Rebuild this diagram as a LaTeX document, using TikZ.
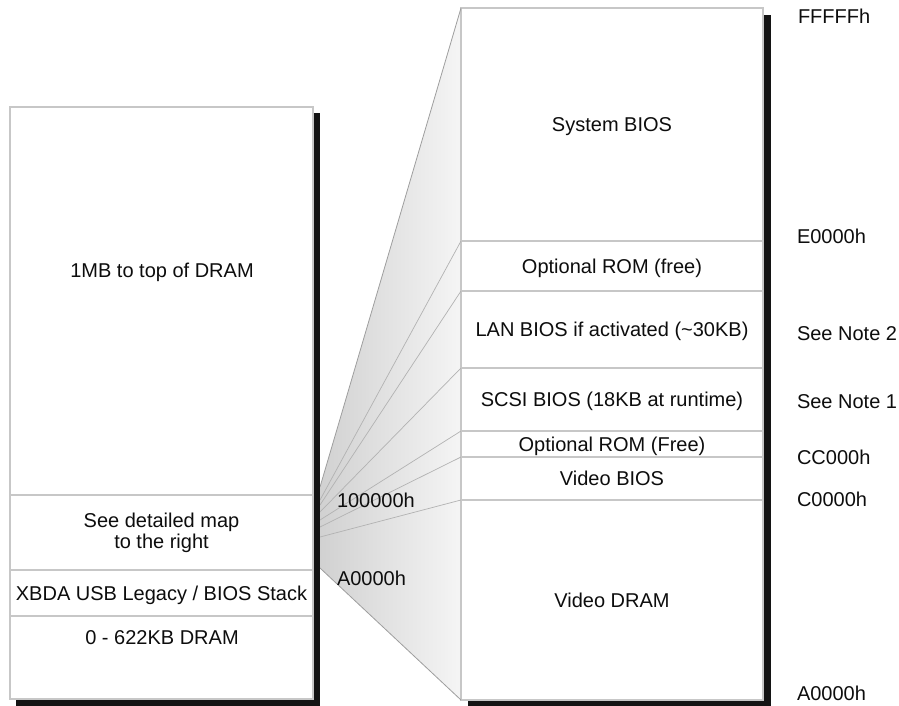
\documentclass[tikz,border=0pt]{standalone}
\usepackage{fontspec}
\setmainfont{Liberation Sans}
\begin{document}
\begin{tikzpicture}[x=1pt,y=-1pt,
  every node/.style={font=\fontsize{20}{21}\selectfont, text=black!95, inner sep=0pt, outer sep=0pt},
  capt/.style={text height=14.3pt, text depth=0pt},
  seg/.style={draw=black!22, line width=1.3pt, fill=white, capt, anchor=north west},
  fanline/.style={draw=black!30, line width=0.7pt},
  fanedge/.style={draw=black!38, line width=0.8pt},
  shadowbox/.style={fill=black!92, draw=none},
  addr/.style={capt, anchor=west}]
\useasboundingbox (0,0) rectangle (899,706);

% fan
\coordinate (f0) at (320,487);
\coordinate (f1) at (320,500);
\coordinate (f2) at (320,505);
\coordinate (f3) at (320,512);
\coordinate (f4) at (320,520);
\coordinate (f5) at (320,527);
\coordinate (f6) at (320,537);
\coordinate (f7) at (320,568);
\coordinate (r0) at (461,8);
\coordinate (r7) at (461,700);
\shade[left color=black!18, right color=black!4] (f0) -- (r0) -- (r7) -- (f7) -- cycle;

% right box
\fill[shadowbox] (468,15) rectangle (771,706);
\node[seg, minimum width=302pt, minimum height=233pt] (sys) at (461,8) {System BIOS};
\node[seg, minimum width=302pt, minimum height=50pt] (opt1) at (461,241) {Optional ROM (free)};
\node[seg, minimum width=302pt, minimum height=77pt] (lan) at (461,291) {LAN BIOS if activated (\textasciitilde 30KB)};
\node[seg, minimum width=302pt, minimum height=63pt] (scsi) at (461,368) {SCSI BIOS (18KB at runtime)};
\node[seg, minimum width=302pt, minimum height=26pt] (opt2) at (461,431) {Optional ROM (Free)};
\node[seg, minimum width=302pt, minimum height=43pt] (vbios) at (461,457) {Video BIOS};
\node[seg, minimum width=302pt, minimum height=200pt] (vdram) at (461,500) {Video DRAM};

% fan lines
\draw[fanedge] (f0) -- (sys.north west);
\draw[fanline] (f1) -- (opt1.north west);
\draw[fanline] (f2) -- (lan.north west);
\draw[fanline] (f3) -- (scsi.north west);
\draw[fanline] (f4) -- (opt2.north west);
\draw[fanline] (f5) -- (vbios.north west);
\draw[fanline] (f6) -- (vdram.north west);
\draw[fanedge] (f7) -- (vdram.south west);

% left box
\fill[shadowbox] (16,113) rectangle (320,706);
\node[seg, minimum width=303pt, minimum height=388pt] (top) at (10,107) {};
\node[seg, minimum width=303pt, minimum height=75pt, align=center, text height=, text depth=] (see) at (10,495) {See detailed map\\to the right};
\node[seg, minimum width=303pt, minimum height=46pt] (xbda) at (10,570) {XBDA USB Legacy / BIOS Stack};
\node[seg, minimum width=303pt, minimum height=83pt] (low) at (10,616) {};
\node[capt] (toptxt) at (162,270) {1MB to top of DRAM};
\node[capt] (lowtxt) at (162,637) {0 - 622KB DRAM};

% address labels
\node[addr] (a100000) at (337,500) {100000h};
\node[addr] (aA0000l) at (337,578) {A0000h};
\node[addr] (aFFFFF) at (798,16) {FFFFFh};
\node[addr] (aE0000) at (797,236) {E0000h};
\node[addr] (note2) at (797,333) {See Note 2};
\node[addr] (note1) at (797,401) {See Note 1};
\node[addr] (aCC000) at (797,457) {CC000h};
\node[addr] (aC0000) at (797,499) {C0000h};
\node[addr] (aA0000r) at (797,693) {A0000h};
\end{tikzpicture}
\end{document}
